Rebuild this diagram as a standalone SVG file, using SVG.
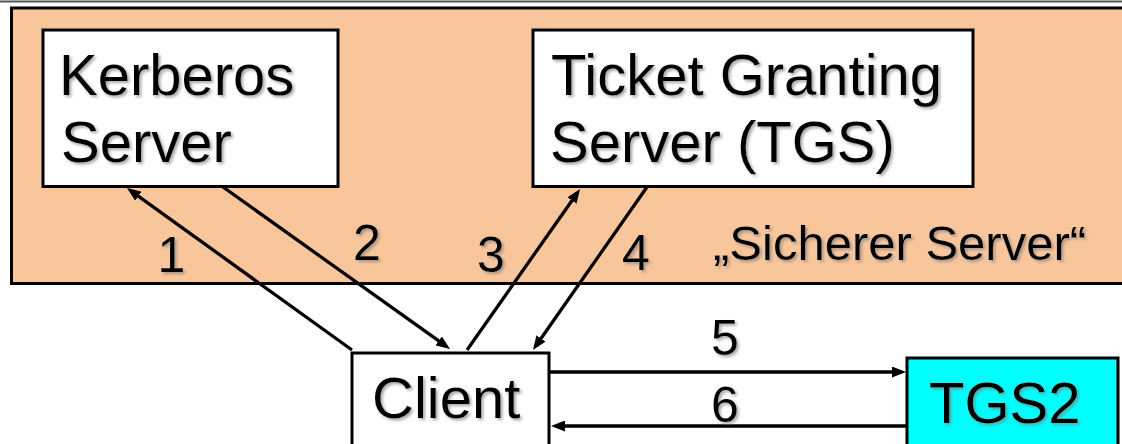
<svg xmlns="http://www.w3.org/2000/svg" width="1122" height="444" viewBox="0 0 1122 444">
<style>
  .box { stroke: #000; stroke-width: 3; }
  .t { font-family: "Liberation Sans", Arial, sans-serif; fill: #000; filter: url(#sh); }
  .big { font-size: 58px; }
  .lbl { font-size: 50px; }
  .conn { stroke: #000; stroke-width: 3.3; fill: none; marker-end: url(#ah); }
</style>
<defs>
  <filter id="sh" x="-10%" y="-20%" width="130%" height="150%">
    <feDropShadow dx="2" dy="2" stdDeviation="1.5" flood-color="#808080" flood-opacity="0.7"/>
  </filter>
  <marker id="ah" markerUnits="userSpaceOnUse" markerWidth="14" markerHeight="11" refX="4" refY="5.5" orient="auto">
    <path d="M0,0 L14,5.5 L0,11 z" fill="#000"/>
  </marker>
</defs>
<rect width="1122" height="444" fill="#fff"/>
<line x1="0" y1="1.5" x2="1122" y2="1.5" stroke="#555" stroke-width="2"/>
<g id="secure-zone">
  <rect class="box" x="11.5" y="8" width="1125" height="275.5" fill="#F9C69C"/>
  <text class="t" x="713" y="260" font-size="49">„Sicherer Server“</text>
</g>
<g id="kerberos-server">
  <rect class="box" x="43" y="30" width="295" height="156.5" fill="#fff"/>
  <text class="t big" x="59" y="95">Kerberos</text>
  <text class="t big" x="61" y="162">Server</text>
</g>
<g id="tgs">
  <rect class="box" x="533" y="30" width="440" height="156.5" fill="#fff"/>
  <text class="t big" x="551" y="95">Ticket Granting</text>
  <text class="t big" x="550" y="162">Server (TGS)</text>
</g>
<g id="client">
  <rect class="box" x="352" y="353" width="197" height="100" fill="#fff"/>
  <text class="t big" x="372" y="418">Client</text>
</g>
<g id="tgs2">
  <rect class="box" x="907" y="358" width="211" height="100" fill="#00FFFF"/>
  <text class="t big" x="929" y="423">TGS2</text>
</g>
<g id="connectors">
  <line class="conn" x1="352" y1="350" x2="135.1" y2="193.8"/>
  <line class="conn" x1="223" y1="187" x2="441.9" y2="343.2"/>
  <line class="conn" x1="467" y1="350" x2="574.3" y2="197.2"/>
  <line class="conn" x1="647" y1="187" x2="538.7" y2="341.8"/>
  <line class="conn" x1="550" y1="372" x2="896" y2="372"/>
  <line class="conn" x1="907" y1="426" x2="561" y2="426"/>
  <text class="t lbl" x="157.5" y="272">1</text>
  <text class="t lbl" x="353" y="260">2</text>
  <text class="t lbl" x="477" y="272">3</text>
  <text class="t lbl" x="622" y="270">4</text>
  <text class="t lbl" x="711" y="355">5</text>
  <text class="t lbl" x="711" y="422">6</text>
</g>
</svg>
